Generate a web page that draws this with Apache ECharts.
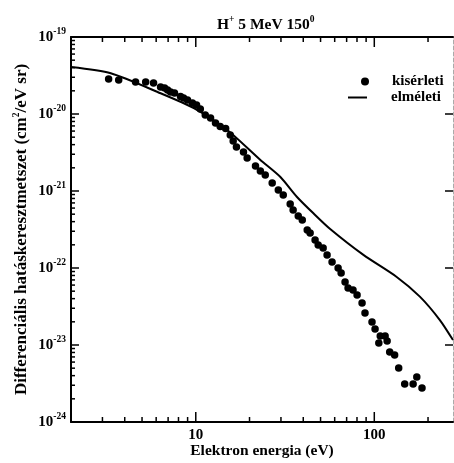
<!DOCTYPE html>
<html>
<head>
<meta charset="utf-8">
<script src="https://cdn.jsdelivr.net/npm/echarts@6/dist/echarts.min.js"></script>
<style>
html, body { margin: 0; padding: 0; background: #fff; }
#chart-panel { width: 454px; height: 463px; }
</style>
</head>
<body>
<div id="chart-panel"></div>
<script>
/* kísérleti pontok (eV, cm2/eV sr) */
let kiserletiX = [3.25, 3.70, 4.60, 5.24, 5.80, 6.35, 6.69, 6.95, 7.22, 7.60, 8.21, 8.54, 8.99, 9.58, 10.1, 10.6,
    11.3, 12.1, 12.9, 13.7, 14.7, 15.6, 16.2, 16.9, 18.5, 19.4, 21.6, 23.0, 24.5, 26.8, 29.0, 30.9,
    33.8, 35.1, 37.5, 39.5, 42.1, 43.7, 46.6, 48.5, 51.7, 54.4, 58.0, 62.7, 65.2, 68.6, 71.3, 76.0,
    80.1, 85.4, 88.7, 97.1, 101, 108, 115, 118, 106, 122, 130, 137, 148, 165, 173, 185]
let kiserletiY = [2.85e-20, 2.76e-20, 2.60e-20, 2.60e-20, 2.53e-20, 2.24e-20, 2.18e-20, 2.05e-20, 1.93e-20, 1.87e-20,
    1.69e-20, 1.61e-20, 1.52e-20, 1.39e-20, 1.31e-20, 1.16e-20, 9.70e-21, 8.87e-21, 7.64e-21, 6.88e-21,
    6.48e-21, 5.34e-21, 4.46e-21, 3.73e-21, 3.21e-21, 2.68e-21, 2.11e-21, 1.82e-21, 1.61e-21, 1.27e-21,
    1.03e-21, 8.87e-22, 6.78e-22, 5.66e-22, 4.73e-22, 4.20e-22, 3.11e-22, 2.85e-22, 2.31e-22, 1.99e-22,
    1.82e-22, 1.48e-22, 1.20e-22, 1.00e-22, 8.61e-23, 6.58e-23, 5.50e-23, 5.18e-23, 4.46e-23, 3.51e-23,
    2.60e-23, 1.99e-23, 1.61e-23, 1.31e-23, 1.31e-23, 1.13e-23, 1.06e-23, 8.11e-24, 7.42e-24, 5.03e-24,
    3.11e-24, 3.11e-24, 3.84e-24, 2.76e-24]

/* elméleti görbe */
let elmeletiX = [2.0, 3.34, 6.35, 9.75, 15.0, 23.0, 29.7, 36.8, 45.6, 56.6, 86.9, 133, 180, 233, 276]
let elmeletiY = [4.07e-20, 3.38e-20, 1.86e-20, 1.19e-20, 6.19e-21, 2.53e-21, 1.53e-21, 8.43e-22, 5.13e-22,
    3.21e-22, 1.48e-22, 7.71e-23, 4.25e-23, 2.11e-23, 1.16e-23]

/* tengely beosztások */
let xMajorTicks = [10, 100]
let xMinorTicks = [2, 3, 4, 5, 6, 7, 8, 9, 20, 30, 40, 50, 60, 70, 80, 90, 200]
let yMajorTicks = [1e-24, 1e-23, 1e-22, 1e-21, 1e-20, 1e-19]
let yMinorTicks = []
yMajorTicks.slice(0, -1).forEach(function (d) {
    for (let k = 2; k <= 9; k++) yMinorTicks.push(k * d)
})

let font = 'Liberation Serif'
let xMin = 2, xMax = 276, yMin = 1e-24, yMax = 1e-19

function zip(xs, ys) {
    return xs.map(function (x, i) { return [x, ys[i]] })
}

function axisBase(pos, min, max, lineStyle) {
    return {
        type: 'log', logBase: 10, position: pos, min: min, max: max,
        axisLine: { show: true, onZero: false, lineStyle: lineStyle },
        axisTick: { show: false },
        axisLabel: { show: false },
        splitLine: { show: false },
        minorTick: { show: false }
    }
}

let blackLine = { color: '#000', width: 2 }
let sup = { fontFamily: font, fontWeight: 'bold', fontSize: 9.5, color: '#000', padding: [0, 0, 10, 0] }
let legendText = { fontFamily: font, fontWeight: 'bold', fontSize: 15, color: '#000' }

let xBottom = axisBase('bottom', xMin, xMax, blackLine)
xBottom.axisLabel = { show: true, customValues: xMajorTicks, margin: 6, fontFamily: font, fontWeight: 'bold', fontSize: 15, color: '#000' }
xBottom.name = 'Elektron energia (eV)'
xBottom.nameLocation = 'middle'
xBottom.nameGap = 21
xBottom.nameMoveOverlap = false
xBottom.nameTextStyle = { fontFamily: font, fontWeight: 'bold', fontSize: 15.5, color: '#000' }

let yLeft = axisBase('left', yMin, yMax, blackLine)
yLeft.axisLabel = {
    show: true, customValues: yMajorTicks, margin: 5,
    formatter: function (v) {
        return '{b|10}{s|' + Math.round(Math.log10(v)) + '}'
    },
    rich: {
        b: { fontFamily: font, fontWeight: 'bold', fontSize: 15, color: '#000' },
        s: sup
    }
}
yLeft.name = '{n|Differenciális hatáskeresztmetszet (cm}{s|2}{n|/eV sr)}'
yLeft.nameLocation = 'middle'
yLeft.nameGap = 39
yLeft.nameMoveOverlap = false
yLeft.nameTextStyle = {
    rich: {
        n: { fontFamily: font, fontWeight: 'bold', fontSize: 17, color: '#000' },
        s: sup
    }
}

let myChart = echarts.init(document.getElementById('chart-panel'))
myChart.setOption({
    animation: false,
    backgroundColor: '#fff',
    title: {
        text: '{b|H}{s|+}{b| 5 MeV 150}{s|0}',
        left: 212, top: 10,
        textStyle: {
            rich: {
                b: { fontFamily: font, fontWeight: 'bold', fontSize: 15.5, color: '#000' },
                s: sup
            }
        }
    },
    legend: [
        {
            left: 356, top: 69, align: 'left', itemWidth: 8, itemHeight: 8,
            data: [{ name: 'kisérleti', icon: 'circle' }],
            textStyle: Object.assign({ padding: [0, 0, 0, 18] }, legendText)
        },
        {
            left: 343, top: 85, align: 'left', itemWidth: 19, itemHeight: 2,
            data: [{ name: 'elméleti', icon: 'rect' }],
            textStyle: Object.assign({ padding: [0, 0, 0, 19] }, legendText)
        }
    ],
    grid: { left: 71, right: 1, top: 37, bottom: 41, containLabel: false, outerBoundsMode: 'none' },
    xAxis: [
        xBottom,
        axisBase('top', xMin, xMax, blackLine)
    ],
    yAxis: [
        yLeft,
        axisBase('right', yMin, yMax, { color: '#aaa', width: 1, type: 'dashed' })
    ],
    series: [
        {
            name: 'kisérleti', type: 'scatter',
            data: zip(kiserletiX, kiserletiY),
            symbol: 'circle', symbolSize: 7.5,
            itemStyle: { color: '#000', opacity: 1 },
            z: 3
        },
        {
            name: 'elméleti', type: 'line',
            data: zip(elmeletiX, elmeletiY),
            symbol: 'none', showSymbol: false, smooth: 0.25,
            lineStyle: { color: '#000', width: 2 },
            itemStyle: { color: '#000' },
            z: 2
        }
    ]
})

/* beosztás jelek: pozíció a tengelyek skálájából (convertToPixel). */
function tickLines(values, side, len) {
    let isX = side === 'bottom' || side === 'top'
    let edge = { bottom: yMin, top: yMax, left: xMin, right: xMax }[side]
    let dir = { bottom: [0, -1], top: [0, 1], left: [1, 0], right: [-1, 0] }[side]
    return values.map(function (v) {
        let p = myChart.convertToPixel({ gridIndex: 0 }, isX ? [v, edge] : [edge, v])
        return {
            type: 'line', z: 100, silent: true,
            shape: { x1: p[0], y1: p[1], x2: p[0] + dir[0] * len, y2: p[1] + dir[1] * len },
            style: { stroke: '#000', lineWidth: 1.5 }
        }
    })
}

myChart.setOption({
    graphic: [].concat(
        tickLines(xMajorTicks, 'bottom', 10),
        tickLines(xMinorTicks, 'bottom', 5),
        tickLines(xMajorTicks, 'top', 10),
        tickLines(xMinorTicks, 'top', 5),
        tickLines(yMajorTicks, 'left', 8),
        tickLines(yMinorTicks, 'left', 4),
        tickLines(yMajorTicks, 'right', 8)
    )
})
</script>
</body>
</html>
